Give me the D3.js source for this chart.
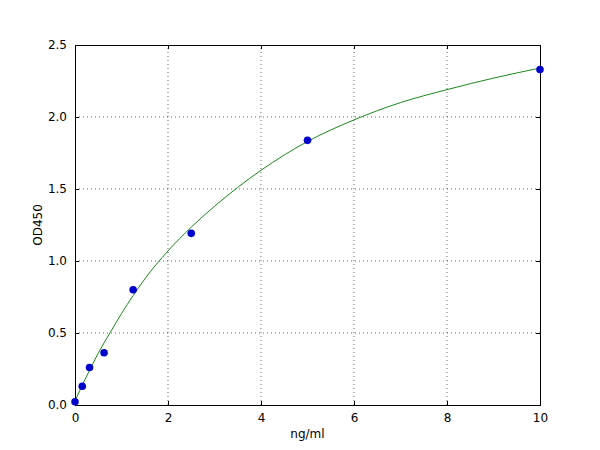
<!DOCTYPE html>
<html>
<head>
<meta charset="utf-8">
<script src="https://cdn.jsdelivr.net/npm/d3@7"></script>
<style>
  body { margin: 0; background: #fff; }
  text { font-family: "DejaVu Sans", sans-serif; }
</style>
</head>
<body>
<svg id="svg" width="600" height="450"></svg>
<script>
const width = 600;
const height = 450;
const margin = { top: 45, right: 60, bottom: 45, left: 75 };

// standards (ng/ml) and measured OD450
const conc = [0, 0.156, 0.3125, 0.625, 1.25, 2.5, 5, 10];
const od = [0.023, 0.13, 0.26, 0.363, 0.8, 1.192, 1.838, 2.33];

// fitted curve
const fitX = [0, 0.25, 0.5, 0.75, 1, 1.25, 1.5, 2, 2.5, 3, 4, 5, 6, 7, 8, 9, 10];
const fitY = [0.03, 0.2, 0.36, 0.5, 0.635, 0.76, 0.875, 1.07, 1.235, 1.38, 1.63, 1.83, 1.98, 2.1, 2.19, 2.27, 2.34];

const xTicks = [0, 2, 4, 6, 8, 10];
const yTicks = [0, 0.5, 1, 1.5, 2, 2.5];

const svg = d3.select("#svg");
const x = d3.scaleLinear().domain([0, 10]).range([margin.left, width - margin.right]);
const y = d3.scaleLinear().domain([0, 2.5]).range([height - margin.bottom, margin.top]);

// grid
svg.append("g")
  .selectAll("line")
  .data(xTicks.slice(1, -1))
  .enter()
  .append("line")
  .attr("x1", (d) => x(d)).attr("x2", (d) => x(d))
  .attr("y1", y(0)).attr("y2", y(2.5))
  .attr("stroke", "#000").attr("stroke-width", 0.6)
  .attr("stroke-dasharray", "1,3");
svg.append("g")
  .selectAll("line")
  .data(yTicks.slice(1, -1))
  .enter()
  .append("line")
  .attr("x1", x(0)).attr("x2", x(10))
  .attr("y1", (d) => y(d)).attr("y2", (d) => y(d))
  .attr("stroke", "#000").attr("stroke-width", 0.6)
  .attr("stroke-dasharray", "1,3");

// axes, ticks pointing inwards like the original
const fmtY = d3.format(".1f");
svg.append("g")
  .attr("transform", `translate(0,${y(0)})`)
  .call(d3.axisBottom(x).tickValues(xTicks).tickSize(-4).tickPadding(8).tickFormat(d3.format("d")));
svg.append("g")
  .attr("transform", `translate(0,${y(2.5)})`)
  .call(d3.axisTop(x).tickValues(xTicks).tickSize(-4).tickFormat(""));
svg.append("g")
  .attr("transform", `translate(${x(0)},0)`)
  .call(d3.axisLeft(y).tickValues(yTicks).tickSize(-4).tickPadding(8).tickFormat(fmtY));
svg.append("g")
  .attr("transform", `translate(${x(10)},0)`)
  .call(d3.axisRight(y).tickValues(yTicks).tickSize(-4).tickFormat(""));

svg.selectAll(".domain").attr("stroke", "#000").attr("stroke-width", 1);
svg.selectAll(".tick text").attr("font-size", 12).attr("fill", "#000")
  .attr("font-family", "DejaVu Sans, sans-serif");

// curve
const line = d3.line()
  .x((d, i) => x(fitX[i]))
  .y((d) => y(d))
  .curve(d3.curveMonotoneX);
svg.append("path")
  .attr("d", line(fitY))
  .attr("fill", "none")
  .attr("stroke", "#1a8a1a")
  .attr("stroke-width", 1);

// points
svg.append("g")
  .selectAll("circle")
  .data(od)
  .enter()
  .append("circle")
  .attr("cx", (d, i) => x(conc[i]))
  .attr("cy", (d) => y(d))
  .attr("r", 3.8)
  .attr("fill", "#0000cc");

// labels
svg.append("text")
  .attr("x", (x(0) + x(10)) / 2)
  .attr("y", 438)
  .attr("text-anchor", "middle")
  .attr("font-size", 12)
  .text("ng/ml");
svg.append("text")
  .attr("transform", `translate(42,${(y(0) + y(2.5)) / 2}) rotate(-90)`)
  .attr("text-anchor", "middle")
  .attr("font-size", 12)
  .text("OD450");
</script>
</body>
</html>
